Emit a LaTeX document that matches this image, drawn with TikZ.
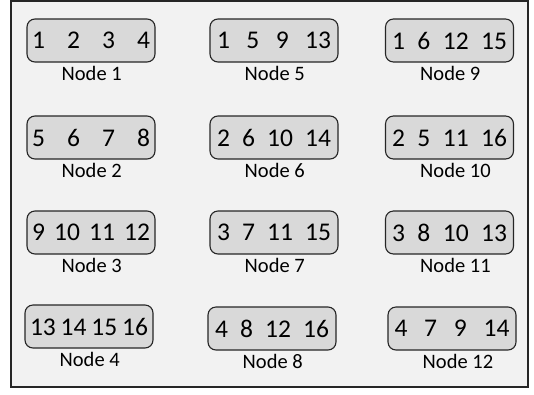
\documentclass[tikz,border=0pt]{standalone}
\usepackage{fontspec}
\setmainfont{Carlito}
\definecolor{boxgray}{RGB}{217,217,217}
\definecolor{bggray}{RGB}{242,242,242}
\begin{document}
\begin{tikzpicture}[x=1pt,y=-1pt,
  cell/.style={draw=black!85, line width=1.1pt, fill=boxgray, rounded corners=8pt,
    minimum width=128pt, minimum height=43pt, inner sep=0pt,
    font=\fontsize{25.5}{25.5}\selectfont},
  lab/.style={anchor=base west, inner sep=0pt, font=\fontsize{20.5}{20.5}\selectfont},
  frame/.style={draw=black!85, line width=1.4pt, fill=bggray}]
\useasboundingbox (0,0) rectangle (534,394);
\draw[frame] (11,1) rectangle (528,387);
% column 1
\node[cell] (n1) at (91,40.5) {\makebox[118pt][s]{1 2 3 4}};
\node[cell] (n2) at (91,137.5) {\makebox[118pt][s]{5 6 7 8}};
\node[cell] (n3) at (91,232.5) {\makebox[118pt][s]{9 10 11 12}};
\node[cell] (n4) at (89,326.5) {\makebox[118pt][s]{13 14 15 16}};
% column 2
\node[cell] (n5) at (274,40.5) {\makebox[114pt][s]{1 5 9 13}};
\node[cell] (n6) at (274,137.5) {\makebox[114pt][s]{2 6 10 14}};
\node[cell] (n7) at (274,232.5) {\makebox[114pt][s]{3 7 11 15}};
\node[cell] (n8) at (272,328.5) {\makebox[114pt][s]{4 8 12 16}};
% column 3
\node[cell] (n9) at (449.5,40.5) {\makebox[115pt][s]{1 6 12 15}};
\node[cell] (n10) at (449.5,137.5) {\makebox[115pt][s]{2 5 11 16}};
\node[cell] (n11) at (449.5,232.5) {\makebox[115pt][s]{3 8 10 13}};
\node[cell] (n12) at (452,328.5) {\makebox[115pt][s]{4 7 9 14}};
% labels
\foreach \i in {1,...,12}
  \node[lab] (l\i) at ([xshift=-29.5pt,yshift=-18pt]n\i.south) {Node \i};
\end{tikzpicture}
\end{document}
